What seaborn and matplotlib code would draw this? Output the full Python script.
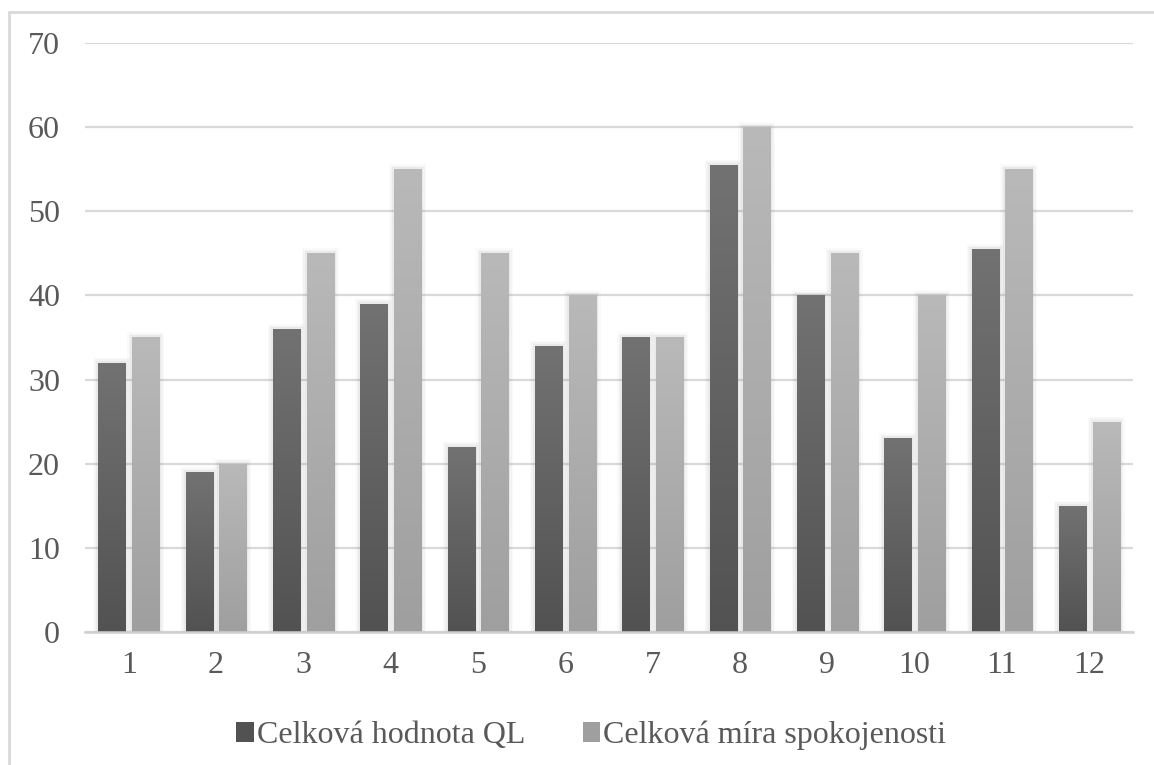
import numpy as np
import pandas as pd
import matplotlib
matplotlib.use("Agg")
import matplotlib.pyplot as plt
from matplotlib.patches import Patch
from matplotlib.lines import Line2D
from matplotlib.colors import LinearSegmentedColormap
import seaborn as sns

categories = [str(i) for i in range(1, 13)]
ql_values = [32, 19, 36, 39, 22, 34, 35, 55.5, 40, 23, 45.5, 15]
satisfaction_values = [35, 20, 45, 55, 45, 40, 35, 60, 45, 40, 55, 25]
series_names = ["Celková hodnota QL", "Celková míra spokojenosti"]
y_ticks = [0, 10, 20, 30, 40, 50, 60, 70]

df = pd.DataFrame({
    "kategorie": categories * 2,
    "hodnota": ql_values + satisfaction_values,
    "serie": [series_names[0]] * 12 + [series_names[1]] * 12,
})

sns.set_theme(style="white")
plt.rcParams["font.family"] = ["Liberation Serif", "DejaVu Serif"]

# top/bottom colours of the vertical gradient for each series
grad = {
    series_names[0]: ("#727272", "#525252"),
    series_names[1]: ("#b9b9b9", "#9f9f9f"),
}
palette = {k: v[1] for k, v in grad.items()}

fig = plt.figure(figsize=(11.54, 7.65), dpi=100)
ax = fig.add_axes([0.0737, 0.1739, 0.9081, 0.7699])

sns.barplot(data=df, x="kategorie", y="hodnota", hue="serie", order=categories,
            hue_order=series_names, palette=palette, width=0.774, gap=0.2,
            saturation=1, errorbar=None, legend=False, ax=ax, zorder=3)

# pixel size of one data unit, used for the soft shadow around bars
px_x = 1.0 / 87.4
px_y = 1.0 / 8.41

n = len(categories)
for i, bar in enumerate(ax.patches[: 2 * n]):
    name = series_names[i // n]
    top, bottom = grad[name]
    cmap = LinearSegmentedColormap.from_list(name, [bottom, top])
    x0, w, h = bar.get_x(), bar.get_width(), bar.get_height()
    if h <= 0:
        continue
    # soft shadow
    for k, a in [(5, 0.035), (3.5, 0.05), (2, 0.07)]:
        ax.add_patch(plt.Rectangle((x0 - k * px_x, 0), w + 2 * k * px_x,
                                   h + k * px_y, facecolor="#777777",
                                   edgecolor="none", alpha=a, zorder=2))
    # vertical gradient clipped to the bar
    img = ax.imshow(np.linspace(0, 1, 256).reshape(-1, 1), cmap=cmap,
                    extent=[x0, x0 + w, 0, h], origin="lower",
                    aspect="auto", zorder=4)
    img.set_clip_path(bar)
    bar.set_edgecolor("none")

ax.set_xlim(-0.5, n - 0.5)
ax.set_ylim(0, 70)
ax.set_yticks(y_ticks)
ax.set_xlabel("")
ax.set_ylabel("")

ax.yaxis.grid(True, color="#d9d9d9", linewidth=1.6, zorder=0)
ax.set_axisbelow(True)
for side in ["left", "right", "top"]:
    ax.spines[side].set_visible(False)
ax.spines["bottom"].set_color("#d0d0d0")
ax.spines["bottom"].set_linewidth(1.8)
ax.spines["bottom"].set_zorder(5)

ax.tick_params(axis="both", length=0, labelsize=23, labelcolor="#595959")
ax.tick_params(axis="y", pad=18)
ax.tick_params(axis="x", pad=14)

handles = [Patch(facecolor=grad[s][1], edgecolor="none") for s in series_names]
leg = ax.legend(handles, series_names, loc="center", bbox_to_anchor=(0.483, -0.176),
                ncol=2, frameon=False, fontsize=23, handlelength=0.55,
                handleheight=0.55, handletextpad=0.1, columnspacing=1.8)
for t in leg.get_texts():
    t.set_color("#595959")

# light frame around the chart area
frame_kw = dict(color="#d9d9d9", linewidth=2, transform=fig.transFigure)
fig.add_artist(Line2D([8.5 / 1154, 8.5 / 1154], [0, 1 - 11.5 / 765], **frame_kw))
fig.add_artist(Line2D([8.5 / 1154, 1], [1 - 11.5 / 765, 1 - 11.5 / 765], **frame_kw))

fig.savefig("out.png", dpi=100, facecolor="white")
